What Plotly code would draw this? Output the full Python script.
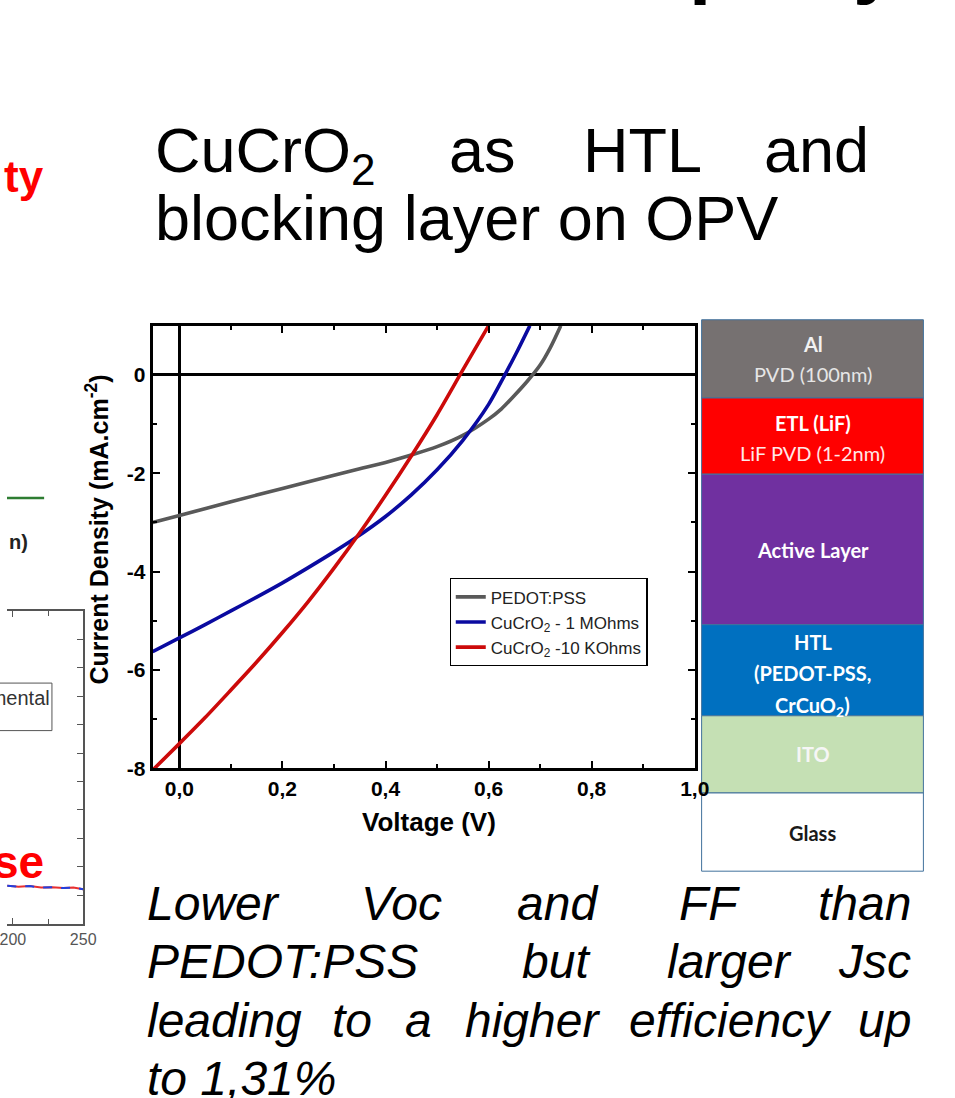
import plotly.graph_objects as go

W, H = 955, 1098

# ---------------- J-V data ----------------
pedot_v = [-0.052, 0.0, 0.1, 0.2, 0.3, 0.35, 0.4, 0.45, 0.5, 0.55, 0.6, 0.625, 0.65, 0.675, 0.7, 0.72, 0.74]
pedot_j = [-3.0, -2.86, -2.58, -2.31, -2.04, -1.91, -1.78, -1.63, -1.46, -1.23, -0.90, -0.69, -0.42, -0.13, 0.20, 0.56, 1.0]

mohm_v = [-0.052, 0.0, 0.05, 0.1, 0.15, 0.2, 0.25, 0.3, 0.34, 0.4, 0.45, 0.5, 0.55, 0.6, 0.63, 0.655, 0.68]
mohm_j = [-5.63, -5.35, -5.08, -4.80, -4.52, -4.23, -3.92, -3.60, -3.33, -2.88, -2.44, -1.93, -1.33, -0.60, -0.03, 0.47, 1.0]

kohm_v = [-0.052, 0.0, 0.05, 0.1, 0.15, 0.2, 0.25, 0.3, 0.35, 0.4, 0.45, 0.5, 0.55, 0.6]
kohm_j = [-8.04, -7.50, -6.97, -6.41, -5.84, -5.24, -4.61, -3.93, -3.21, -2.45, -1.65, -0.81, 0.10, 1.0]

series_names = ["PEDOT:PSS", "CuCrO<sub>2</sub> - 1 MOhms", "CuCrO<sub>2</sub> -10 KOhms"]
series_colors = ["#595959", "#0a0aa0", "#cc0a0a"]

x_tickvals = [0.0, 0.2, 0.4, 0.6, 0.8, 1.0]
x_ticktext = ["0,0", "0,2", "0,4", "0,6", "0,8", "1,0"]
y_tickvals = [0, -2, -4, -6, -8]
y_ticktext = ["0", "-2", "-4", "-6", "-8"]

# cut-off neighbouring chart on the left edge
frag_x = [196, 204, 212, 220, 228, 236, 243, 250]
frag_y = [1.33, 1.30, 1.32, 1.27, 1.28, 1.25, 1.27, 1.21]
frag_tickvals = [200, 250]
frag_ticktext = ["200", "250"]

ARIAL = "Liberation Sans, Arial, sans-serif"
CALIBRI = "Lato, Open Sans, sans-serif"


def px(x):
    return x / W


def py(y):
    return 1 - y / H


fig = go.Figure()
for v, j, name, col in zip([pedot_v, mohm_v, kohm_v], [pedot_j, mohm_j, kohm_j],
                           series_names, series_colors):
    fig.add_trace(go.Scatter(x=v, y=j, mode="lines", name=name,
                             line=dict(color=col, width=3.6, shape="spline", smoothing=0.8)))

# fragment traces
fig.add_trace(go.Scatter(x=frag_x, y=frag_y, xaxis="x2", yaxis="y2", mode="lines",
                         line=dict(color="#e83030", width=2), showlegend=False))
fig.add_trace(go.Scatter(x=frag_x, y=frag_y, xaxis="x2", yaxis="y2", mode="lines",
                         line=dict(color="#2040e0", width=2, dash="dash"), showlegend=False))

axis_common = dict(showline=True, linecolor="black", linewidth=3, mirror="allticks",
                   ticks="inside", ticklen=7, tickwidth=2, tickcolor="black",
                   showgrid=False, zeroline=True, zerolinecolor="black", zerolinewidth=3,
                   tickfont=dict(family=ARIAL, size=21, color="black", weight="bold"))

fig.update_layout(
    width=W, height=H,
    margin=dict(l=0, r=0, t=0, b=0),
    paper_bgcolor="white", plot_bgcolor="white",
    xaxis=dict(domain=[px(149), px(704)], range=[-0.052, 1.0], tickmode="array",
               tickvals=x_tickvals, ticktext=x_ticktext,
               minor=dict(ticks="inside", ticklen=4, tickwidth=2, tickcolor="black",
                          dtick=0.1, tick0=0, showgrid=False),
               **axis_common),
    yaxis=dict(domain=[py(776), py(329)], range=[-8, 1.0], tickmode="array",
               tickvals=y_tickvals, ticktext=y_ticktext,
               minor=dict(ticks="inside", ticklen=4, tickwidth=2, tickcolor="black",
                          dtick=1, tick0=0, showgrid=False),
               **axis_common),
    xaxis2=dict(domain=[0, px(78)], range=[195.8, 250], anchor="y2",
                showline=True, linecolor="#555", linewidth=1.5, mirror="allticks",
                ticks="inside", ticklen=6, tickwidth=1.2, tickcolor="#555",
                tickmode="array", tickvals=frag_tickvals, ticktext=frag_ticktext,
                ticklabeloverflow="allow",
                minor=dict(ticks="inside", ticklen=5, tickwidth=1.2, tickcolor="#555", dtick=25, tick0=0),
                tickfont=dict(family=ARIAL, size=16, color="#555"),
                showgrid=False, zeroline=False),
    yaxis2=dict(domain=[py(933), py(617)], range=[0, 11], anchor="x2", side="right",
                showline=True, linecolor="#555", linewidth=1.5,
                ticks="inside", ticklen=6, tickwidth=1.2, tickcolor="#555", dtick=1,
                showticklabels=False, showgrid=False, zeroline=False),
    showlegend=True,
    legend=dict(x=px(453), y=py(584), xanchor="left", yanchor="top",
                bgcolor="white", bordercolor="black", borderwidth=1.2,
                font=dict(family=ARIAL, size=17, color="#222"),
                itemwidth=30),
)

# ---------------- layer stack ----------------
stack_x0, stack_x1 = px(711), px(938)
layer_bounds = [(323, 402, "#767171"), (402, 479, "#ff0000"), (479, 631, "#7030a0"),
                (631, 723, "#0070c0"), (723, 801, "#c5e0b4"), (801, 880, "#ffffff")]
shapes = []
for y0, y1, col in layer_bounds:
    shapes.append(dict(type="rect", xref="paper", yref="paper", x0=stack_x0, x1=stack_x1,
                       y0=py(y1), y1=py(y0), fillcolor=col,
                       line=dict(color="#41719c", width=1), layer="below"))
# left-edge fragments
shapes.append(dict(type="line", xref="paper", yref="paper", x0=0, x1=px(38), y0=py(503), y1=py(503),
                   line=dict(color="#2e7d32", width=2.5)))
shapes.append(dict(type="rect", xref="paper", yref="paper", x0=px(-60), x1=px(46), y0=py(738), y1=py(690),
                   line=dict(color="#555", width=1), fillcolor="white"))
fig.update_layout(shapes=shapes)

ann = []


def text(t, x, y, size, color="black", family=ARIAL, bold=False, italic=False,
         xanchor="center", yanchor="middle", angle=0):
    ann.append(dict(text=t, x=px(x), y=py(y), xref="paper", yref="paper", showarrow=False,
                    xanchor=xanchor, yanchor=yanchor, textangle=angle, borderpad=0, borderwidth=0,
                    font=dict(family=family, size=size, color=color,
                              weight="bold" if bold else "normal",
                              style="italic" if italic else "normal")))


# axis titles
text("Current Density (mA.cm<sup>-2</sup>)", 92, 535, 25, bold=True, angle=-90)
text("Voltage (V)", 432, 830, 26, bold=True)

# title (justified)
TS = 63
t1 = 173 - 0.905 * TS
t2 = 242 - 0.905 * TS
text("CuCrO<sub>2</sub>", 152, t1, TS, xanchor="left", yanchor="top")
text("as", 452, t1, TS, xanchor="left", yanchor="top")
text("HTL", 590, t1, TS, xanchor="left", yanchor="top")
text("and", 882, t1, TS, xanchor="right", yanchor="top")
text("blocking layer on OPV", 152, t2, TS, xanchor="left", yanchor="top")

# bottom italic text (justified)
BS = 48
lines = [
    (929, [("Lower", 143, "left"), ("Voc", 362, "left"), ("and", 522, "left"), ("FF", 688, "left"), ("than", 925, "right")]),
    (988, [("PEDOT:PSS", 143, "left"), ("but", 527, "left"), ("larger", 676, "left"), ("Jsc", 925, "right")]),
    (1047, [("leading", 143, "left"), ("to", 333, "left"), ("a", 407, "left"), ("higher", 469, "left"),
            ("efficiency", 637, "left"), ("up", 925, "right")]),
    (1106, [("to 1,31%", 143, "left")]),
]
for base, words in lines:
    for w, x, xa in words:
        text(w, x, base - 0.905 * BS, BS, italic=True, xanchor=xa, yanchor="top")

# layer labels
cx = 824.5
text("Al", cx, 347, 20, color="#f2f2f2", family=CALIBRI, bold=True)
text("PVD (100nm)", cx, 378, 20, color="#e6e6e6", family=CALIBRI)
text("ETL (LiF)", cx, 427, 20, color="#ffffff", family=CALIBRI, bold=True)
text("LiF PVD (1-2nm)", cx, 458, 20, color="#ffe8e8", family=CALIBRI)
text("Active Layer", cx, 556, 20, color="#ffffff", family=CALIBRI, bold=True)
text("HTL", cx, 648, 20, color="#ffffff", family=CALIBRI, bold=True)
text("(PEDOT-PSS,", cx, 680, 20, color="#ffffff", family=CALIBRI, bold=True)
text("CrCuO<sub>2</sub>)", cx, 714, 20, color="#ffffff", family=CALIBRI, bold=True)
text("ITO", cx, 762, 20, color="#f6f6f6", family=CALIBRI, bold=True)
text("Glass", cx, 841, 20, color="#1a1a1a", family=CALIBRI, bold=True)

# fragments at edges
text("ty", 38, 178, 44, color="#ff0000", bold=True, xanchor="right")
text("n)", 21, 547, 20, color="#222", bold=True, xanchor="right")
text("Experimental", 44, 705, 20, color="#333", xanchor="right")
text("se", 38, 871, 46, color="#ff0000", bold=True, xanchor="right")
text("p", 698, -40, 80, bold=True, xanchor="left")
text("y", 866, -40, 80, bold=True, xanchor="left")

fig.update_layout(annotations=ann)
fig.write_html("out.html")
